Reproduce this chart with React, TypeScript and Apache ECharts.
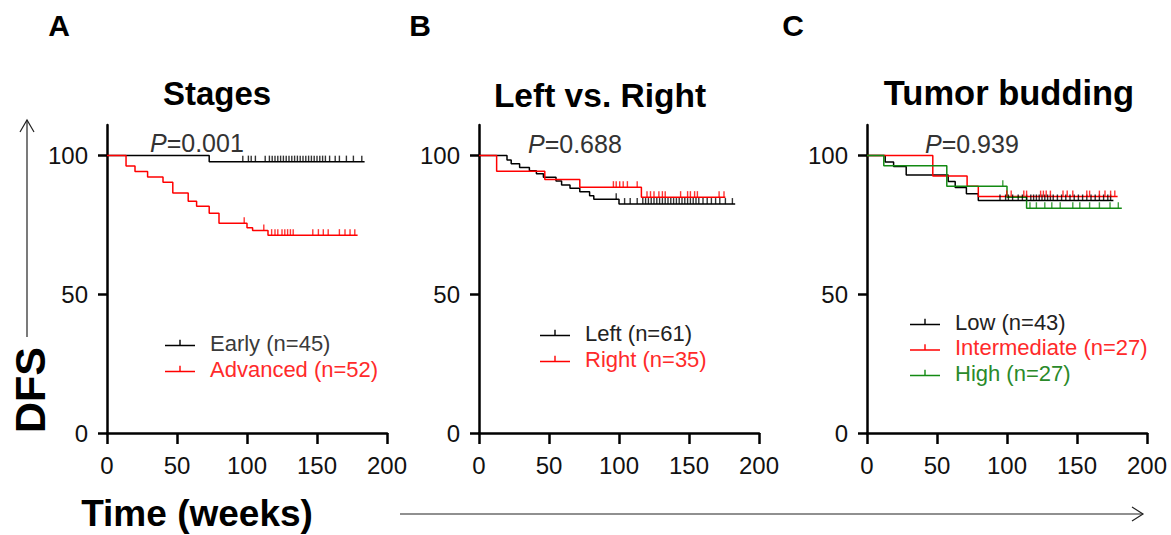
import React, { useEffect, useRef } from "react";
import * as echarts from "echarts";

const FONT = "'Liberation Sans', Arial, Helvetica, sans-serif";

const xTicks = [0, 50, 100, 150, 200];
const yTicks = [0, 50, 100];

// ---------- Panel A: Stages ----------
const earlyName = "Early (n=45)";
const earlySteps = [[0, 100], [73, 97.8], [184, 97.8]];
const earlyCensorLevel = 97.8;
const earlyCensorTimes = [97, 101, 103, 106, 113, 116, 118, 120, 122, 124, 126, 128, 130, 132, 134, 136, 138, 140, 142, 144, 146, 148, 150, 152, 154, 156, 159, 163, 166, 171, 176, 182];

const advancedName = "Advanced (n=52)";
const advancedSteps = [[0, 100], [13.6, 96.2], [20, 94.2], [29, 92.3], [40, 90.4], [47, 86.5], [58, 83.5], [64, 81.7], [73, 79.2], [80, 75.6], [100, 74.0], [104, 73.0], [115, 71.3], [179, 71.3]];
const advancedCensor = [[98, 75.6], [112, 73.0], [117.6, 71.3], [120, 71.3], [122, 71.3], [125, 71.3], [127, 71.3], [129, 71.3], [131, 71.3], [133, 71.3], [147, 71.3], [151, 71.3], [154.5, 71.3], [158, 71.3], [166, 71.3], [170, 71.3], [173.6, 71.3], [177, 71.3]];

// ---------- Panel B: Left vs. Right ----------
const leftName = "Left (n=61)";
const leftSteps = [[0, 100], [20, 98.4], [23, 97.0], [29, 95.7], [36, 94.5], [41, 93.4], [46, 92.2], [55, 90.8], [59, 89.4], [65, 88.2], [72, 86.9], [79, 85.5], [82, 84.2], [100, 82.5], [183, 82.5]];
const leftCensor = [[98, 84.2], [104, 82.5], [108, 82.5], [113, 82.5], [117, 82.5], [119, 82.5], [121, 82.5], [123, 82.5], [125, 82.5], [127, 82.5], [129, 82.5], [131, 82.5], [133, 82.5], [135, 82.5], [137, 82.5], [139, 82.5], [141, 82.5], [143, 82.5], [145, 82.5], [147, 82.5], [149, 82.5], [151, 82.5], [153, 82.5], [155, 82.5], [157, 82.5], [160, 82.5], [163, 82.5], [166, 82.5], [169, 82.5], [172, 82.5], [176, 82.5], [181, 82.5]];

const rightName = "Right (n=35)";
const rightSteps = [[0, 100], [12.6, 94.3], [47, 91.4], [72, 88.6], [116, 85.0], [176, 85.0]];
const rightCensor = [[96, 88.6], [98, 88.6], [100.5, 88.6], [103, 88.6], [106, 88.6], [113, 88.6], [120, 85.0], [122.5, 85.0], [125, 85.0], [128.5, 85.0], [131, 85.0], [133, 85.0], [144, 85.0], [149, 85.0], [151, 85.0], [154, 85.0], [156, 85.0], [171.5, 85.0], [175, 85.0]];

// ---------- Panel C: Tumor budding ----------
const lowName = "Low (n=43)";
const lowSteps = [[0, 100], [13, 97.7], [19, 96.0], [28, 93.0], [58, 90.6], [63, 88.5], [71, 86.2], [79.5, 83.8], [176, 83.8]];
const lowCensor = [[95, 83.8], [99, 83.8], [101, 83.8], [104, 83.8], [108, 83.8], [111, 83.8], [114, 83.8], [117, 83.8], [119, 83.8], [121, 83.8], [123, 83.8], [125, 83.8], [127, 83.8], [129, 83.8], [131, 83.8], [133, 83.8], [136, 83.8], [139, 83.8], [142, 83.8], [145, 83.8], [148, 83.8], [151, 83.8], [154, 83.8], [157, 83.8], [160, 83.8], [163, 83.8], [166, 83.8], [169, 83.8], [172, 83.8], [174, 83.8]];

const interName = "Intermediate (n=27)";
const interSteps = [[0, 100], [47, 92.6], [71.5, 88.9], [79.5, 85.2], [179, 85.2]];
const interCensor = [[99.8, 85.2], [103, 85.2], [112, 85.2], [114, 85.2], [124, 85.2], [126, 85.2], [128, 85.2], [131, 85.2], [140, 85.2], [143, 85.2], [147, 85.2], [157, 85.2], [159, 85.2], [166, 85.2], [170, 85.2], [174, 85.2], [177, 85.2]];

const highName = "High (n=27)";
const highSteps = [[0, 100], [12, 96.3], [57, 88.9], [100, 85.0], [114, 81.0], [182, 81.0]];
const highCensor = [[97, 88.9], [116.4, 81.0], [121, 81.0], [127, 81.0], [132, 81.0], [138, 81.0], [147, 81.0], [152, 81.0], [159, 81.0], [166, 81.0], [173.6, 81.0], [179.5, 81.0]];

const panelTitles = ["Stages", "Left vs. Right", "Tumor budding"];
const panelLetters = ["A", "B", "C"];
const pValues = ["0.001", "0.688", "0.939"];

const BLACK = "#000000";
const RED = "#ff0000";
const GREEN = "#138a13";

const LEGEND_ICON = "path://M0,7 L30,7 L30,8.5 L0,8.5 Z M14.3,2 L15.7,2 L15.7,7 L14.3,7 Z";

const earlyCensorData = earlyCensorTimes.map((t) => [t, earlyCensorLevel]);

function App() {
  const ref = useRef<HTMLDivElement>(null);

  useEffect(() => {
    if (!ref.current) return;
    const chart = echarts.init(ref.current, null, { renderer: "svg" });

    const gridLefts = [107, 479, 867];
    const grids = gridLefts.map((l) => ({ left: l, top: 125, width: 280, height: 308 }));

    const axisLineStyle = { color: "#000", width: 2.5 };
    const xAxes = gridLefts.map((_, i) => ({
      gridIndex: i,
      type: "value",
      min: 0,
      max: 200,
      interval: 50,
      axisLine: { show: true, onZero: false, lineStyle: axisLineStyle },
      axisTick: { show: true, length: 11, lineStyle: axisLineStyle },
      axisLabel: { fontSize: 24, color: "#111", margin: 20, fontFamily: FONT },
      splitLine: { show: false },
    }));
    const yAxes = gridLefts.map((_, i) => ({
      gridIndex: i,
      type: "value",
      min: 0,
      max: 111,
      axisLine: { show: true, onZero: false, lineStyle: axisLineStyle },
      axisTick: { show: true, length: 9, customValues: yTicks, lineStyle: axisLineStyle },
      axisLabel: { customValues: yTicks, fontSize: 24, color: "#111", margin: 19, fontFamily: FONT },
      splitLine: { show: false },
    }));

    const stepSeries = (name: string, data: number[][], color: string, idx: number) => ({
      name,
      type: "line",
      step: "end",
      xAxisIndex: idx,
      yAxisIndex: idx,
      data,
      symbol: "none",
      lineStyle: { color, width: 1.5 },
      itemStyle: { color },
      z: 3,
    });
    const censorSeries = (name: string, data: number[][], color: string, idx: number) => ({
      name: name + " censored",
      type: "scatter",
      xAxisIndex: idx,
      yAxisIndex: idx,
      data,
      symbol: "rect",
      symbolSize: [1.4, 6],
      symbolOffset: [0, -3],
      itemStyle: { color },
      silent: true,
      z: 4,
    });

    const series = [
      stepSeries(earlyName, earlySteps, BLACK, 0),
      censorSeries(earlyName, earlyCensorData, BLACK, 0),
      stepSeries(advancedName, advancedSteps, RED, 0),
      censorSeries(advancedName, advancedCensor, RED, 0),
      stepSeries(leftName, leftSteps, BLACK, 1),
      censorSeries(leftName, leftCensor, BLACK, 1),
      stepSeries(rightName, rightSteps, RED, 1),
      censorSeries(rightName, rightCensor, RED, 1),
      stepSeries(lowName, lowSteps, BLACK, 2),
      censorSeries(lowName, lowCensor, BLACK, 2),
      stepSeries(interName, interSteps, RED, 2),
      censorSeries(interName, interCensor, RED, 2),
      stepSeries(highName, highSteps, GREEN, 2),
      censorSeries(highName, highCensor, GREEN, 2),
    ];

    const legendBase = {
      orient: "vertical",
      icon: LEGEND_ICON,
      itemWidth: 30,
      itemHeight: 6.5,
      padding: 0,
      selectedMode: false,
      itemStyle: { borderWidth: 0 },
      textStyle: { fontSize: 22, fontFamily: FONT, lineHeight: 22, padding: [0, 0, 0, 10] },
    };
    const legends = [
      {
        ...legendBase,
        left: 165,
        top: 332,
        itemGap: 4,
        data: [
          { name: earlyName, textStyle: { color: "#3a3a3a" } },
          { name: advancedName, textStyle: { color: "#ff2a2a" } },
        ],
      },
      {
        ...legendBase,
        left: 540,
        top: 322,
        itemGap: 4,
        data: [
          { name: leftName, textStyle: { color: "#222" } },
          { name: rightName, textStyle: { color: "#ff2a2a" } },
        ],
      },
      {
        ...legendBase,
        left: 910,
        top: 311,
        itemGap: 3.5,
        data: [
          { name: lowName, textStyle: { color: "#222" } },
          { name: interName, textStyle: { color: "#ff2a2a" } },
          { name: highName, textStyle: { color: "#2a8a2a" } },
        ],
      },
    ];

    const letterPos = [[59, 25], [420, 25], [793, 25]];
    const titlePos = [[217, 93], [600, 95], [1009, 93]];
    const titleSizes = [33, 33.5, 34.5];
    const pPos = [[150, 143], [528, 144], [925, 144]];

    const graphics: any[] = [];
    panelLetters.forEach((t, i) => {
      graphics.push({
        type: "text",
        x: letterPos[i][0],
        y: letterPos[i][1],
        style: { text: t, font: `bold 30px ${FONT}`, fill: "#000", textAlign: "center", textVerticalAlign: "middle" },
      });
    });
    panelTitles.forEach((t, i) => {
      graphics.push({
        type: "text",
        x: titlePos[i][0],
        y: titlePos[i][1],
        style: { text: t, font: `bold ${titleSizes[i]}px ${FONT}`, fill: "#000", textAlign: "center", textVerticalAlign: "middle" },
      });
    });
    pValues.forEach((p, i) => {
      graphics.push({
        type: "text",
        x: pPos[i][0],
        y: pPos[i][1],
        z: 10,
        style: {
          text: `{i|P}{n|=${p}}`,
          textAlign: "left",
          textVerticalAlign: "middle",
          rich: {
            i: { fontStyle: "italic", fontSize: 25, fontFamily: FONT, fill: "#333" },
            n: { fontSize: 25, fontFamily: FONT, fill: "#333" },
          },
        },
      });
    });
    // DFS axis title with arrow
    graphics.push({
      type: "text",
      x: 30,
      y: 390,
      rotation: Math.PI / 2,
      style: { text: "DFS", font: `bold 43px ${FONT}`, fill: "#000", textAlign: "center", textVerticalAlign: "middle" },
    });
    graphics.push({ type: "line", shape: { x1: 27, y1: 337, x2: 27, y2: 120 }, style: { stroke: "#222", lineWidth: 1.2 } });
    graphics.push({ type: "polyline", shape: { points: [[20, 132], [27, 120], [34, 132]] }, style: { stroke: "#222", lineWidth: 1.2, fill: "none" } });
    // Time axis title with arrow
    graphics.push({
      type: "text",
      x: 197,
      y: 513,
      style: { text: "Time (weeks)", font: `bold 37px ${FONT}`, fill: "#000", textAlign: "center", textVerticalAlign: "middle" },
    });
    graphics.push({ type: "line", shape: { x1: 400, y1: 514, x2: 1143, y2: 514 }, style: { stroke: "#222", lineWidth: 1.2 } });
    graphics.push({ type: "polyline", shape: { points: [[1132, 507], [1143, 514], [1132, 521]] }, style: { stroke: "#222", lineWidth: 1.2, fill: "none" } });

    chart.setOption({
      animation: false,
      backgroundColor: "#ffffff",
      textStyle: { fontFamily: FONT },
      grid: grids,
      xAxis: xAxes,
      yAxis: yAxes,
      legend: legends,
      series,
      graphic: graphics,
    });

    return () => chart.dispose();
  }, []);

  return (
    <div
      ref={ref}
      style={{ position: "absolute", left: 0, top: 0, width: 1171, height: 535, background: "#fff" }}
    />
  );
}

export default App;
